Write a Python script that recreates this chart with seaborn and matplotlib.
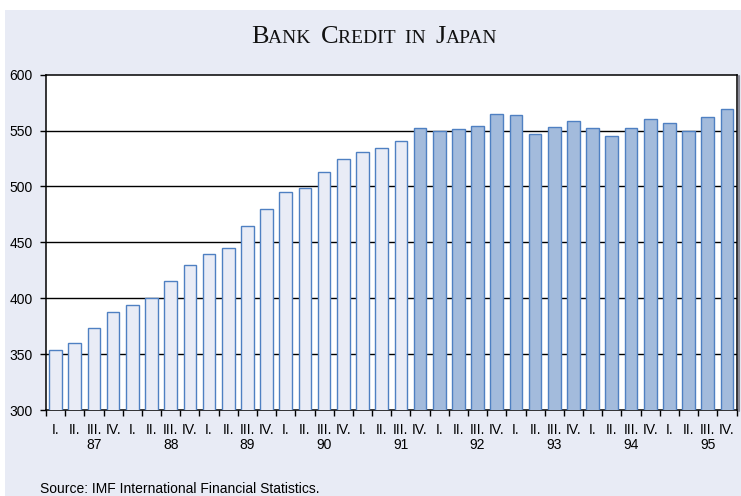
import matplotlib
matplotlib.use("Agg")
import matplotlib.pyplot as plt
import matplotlib.patches as mpatches
from matplotlib.offsetbox import TextArea, HPacker, AnnotationBbox
from matplotlib.transforms import blended_transform_factory, offset_copy
import seaborn as sns
import pandas as pd

# Quarterly bank credit, 1987 Q1 – 1995 Q4
years = ["87", "88", "89", "90", "91", "92", "93", "94", "95"]
quarters = ["I.", "II.", "III.", "IV."]
credit = [354, 360, 373, 388,
          394, 400, 415, 430,
          440, 445, 465, 480,
          495, 499, 513, 525,
          531, 534, 541, 552,
          550, 551, 554, 565,
          564, 547, 553, 559,
          552, 545, 552, 560,
          557, 550, 562, 569]
split_index = 19  # first quarter drawn in the darker shade (91 IV.)

periods = [f"{y}{q}" for y in years for q in quarters]
quarter_labels = [q for _ in years for q in quarters]
phase = ["early" if i < split_index else "late" for i in range(len(credit))]
df = pd.DataFrame({"period": periods, "credit": credit, "phase": phase})

BG = "#E8EBF5"
LIGHT = "#E9ECF6"
DARK = "#A3BBDC"
EDGE = "#4F80C2"

sns.set_theme(style="white")
plt.rcParams["font.family"] = ["Liberation Sans", "DejaVu Sans"]

fig = plt.figure(figsize=(7.41, 4.96), dpi=100)
fig.patch.set_facecolor("white")
fig.patches.append(mpatches.Rectangle((5 / 741, 0), 1, 1 - 10 / 496,
                                      transform=fig.transFigure,
                                      facecolor=BG, edgecolor="none", zorder=-10))

ax = fig.add_axes([46 / 741, 1 - 410 / 496, 690.5 / 741, 335.3 / 496])
ax.set_facecolor("white")

sns.barplot(data=df, x="period", y="credit", hue="phase",
            palette={"early": LIGHT, "late": DARK}, dodge=False, saturation=1,
            width=0.66, edgecolor=EDGE, linewidth=1.0, legend=False,
            ax=ax, zorder=3)

ax.set_ylim(300, 600)
ax.set_xlim(-0.5, len(credit) - 0.5)
ax.set_yticks(range(300, 601, 50))
for v in range(350, 600, 50):
    ax.axhline(v, color="black", linewidth=1.0, zorder=1)

for side in ["left", "bottom", "top", "right"]:
    ax.spines[side].set_visible(True)
    ax.spines[side].set_color("black")
    ax.spines[side].set_linewidth(1.1)

# thin grey shadow along the right edge of the plot frame
fig.add_artist(plt.Line2D([738.5 / 741, 738.5 / 741],
                          [1 - 411 / 496, 1 - 76 / 496],
                          transform=fig.transFigure, color="#8A8A96",
                          linewidth=1.5))

# Boundary ticks between quarters, labels centered under each bar
ax.set_xticks([i - 0.5 for i in range(len(credit) + 1)])
ax.set_xticklabels([])
ax.set_xticks(range(len(credit)), minor=True)
ax.set_xticklabels(quarter_labels, minor=True, fontsize=10, color="black")
ax.tick_params(axis="x", which="major", direction="out", length=4, width=1,
               color="black", bottom=True)
ax.tick_params(axis="x", which="minor", length=0, pad=9)
ax.tick_params(axis="y", direction="out", length=4.5, width=1, color="black",
               left=True, labelsize=10, pad=5, labelcolor="black")
ax.set_xlabel("")
ax.set_ylabel("")

# Year labels under the third quarter of each year
trans = offset_copy(blended_transform_factory(ax.transData, ax.transAxes),
                    fig=fig, x=0, y=-35, units="dots")
for k, y in enumerate(years):
    ax.text(k * 4 + 2, 0, y, transform=trans, ha="center", va="center",
            fontsize=10, color="black")

# Small-caps serif title
title_parts = [("B", 19), ("ANK  ", 14), ("C", 19), ("REDIT  IN  ", 14),
               ("J", 19), ("APAN", 14)]
boxes = [TextArea(t, textprops=dict(fontfamily="Liberation Serif", fontsize=s,
                                    color="#111111"))
         for t, s in title_parts]
packed = HPacker(children=boxes, align="baseline", pad=0, sep=0)
ab = AnnotationBbox(packed, (374 / 741, 1 - 37 / 496), xycoords="figure fraction",
                    box_alignment=(0.5, 0.5), frameon=False)
fig.add_artist(ab)

fig.text(40 / 741, 1 - 489 / 496, "Source: IMF International Financial Statistics.",
         fontsize=10, color="black", ha="left", va="center")

fig.savefig("out.png", dpi=100)
